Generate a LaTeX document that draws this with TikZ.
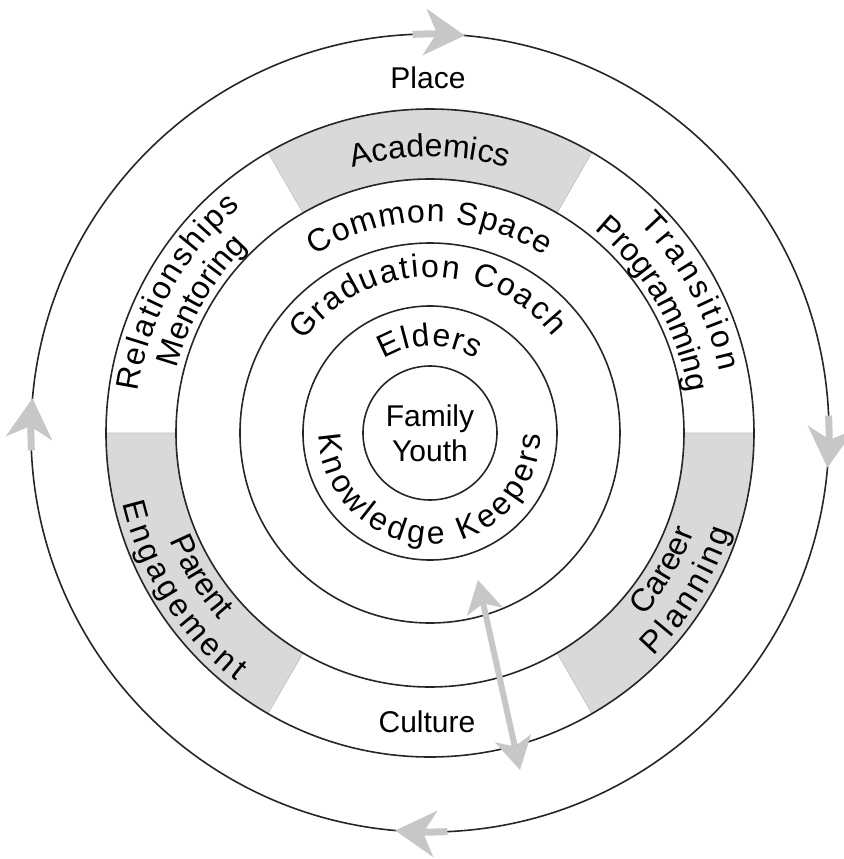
\documentclass[tikz,border=0pt]{standalone}
\usepackage{fontspec}
\setmainfont{Liberation Sans}
\usepackage{tikz}
\usetikzlibrary{arrows.meta,decorations.text}

\colorlet{bandgrey}{black!15}
\colorlet{flowgrey}{black!22}
\newcommand\ringfont{\fontsize{15}{17.5}\selectfont}
\newcommand\arcfont{\fontsize{16}{19}\selectfont}

\begin{document}
\begin{tikzpicture}[x=0.5pt,y=0.5pt,font=\ringfont,
  ring/.style={draw=black!85,line width=0.8pt},
  band/.style={fill=bandgrey,draw=black!25,line width=0.3pt},
  flow/.style={draw=flowgrey,line width=3.5pt,-{Stealth[length=20pt,width=23pt,inset=6pt]}},
  link/.style={draw=flowgrey,line width=3pt,{Stealth[length=16pt,width=18pt,inset=4pt]}-{Stealth[length=16pt,width=18pt,inset=4pt]}},
  arctext/.style={decorate,decoration={text along path,text align=center,text={#1}}},
  fittext/.style={decorate,decoration={text along path,text align=fit to path,text={#1}}}]
\useasboundingbox (-430,-426) rectangle (414,433);
\foreach \a in {60,180,300}
  \path[band] (\a:254) -- (\a:324) arc[start angle=\a,end angle=\a+60,radius=324]
    -- (\a+60:254) arc[start angle=\a+60,end angle=\a,radius=254] -- cycle;
\foreach \r in {67,127,190,254,324,399}
  \draw[ring] (0,0) circle[radius=\r];
\foreach \a in {90,0,-90,180}
  \draw[flow] (\a+2.5:399) arc[start angle=\a+2.5,end angle=\a-5,radius=399];

\node (place) at (-2,355) {Place};
\node (culture) at (-3,-289) {Culture};
\node[align=center] (core) at (0,0) {Family\\Youth};

\arcfont
\path[arctext=Academics] (112:276) arc[start angle=112,end angle=68,radius=276];
\path[fittext={Common Space}] (123:211) arc[start angle=123,end angle=57,radius=211];
\path[fittext={Graduation Coach}] (144:156) arc[start angle=144,end angle=38,radius=156];
\path[fittext=Elders] (122:87) arc[start angle=122,end angle=58,radius=87];
\path[fittext={Knowledge Keepers}] (181:111) arc[start angle=181,end angle=359,radius=111];
\path[fittext=Relationships] (172:295) arc[start angle=172,end angle=130,radius=295];
\path[arctext=Mentoring] (172:261) arc[start angle=172,end angle=128,radius=261];
\path[fittext=Transition] (45:296) arc[start angle=45,end angle=12,radius=296];
\path[arctext=Programming] (60:261) arc[start angle=60,end angle=0,radius=261];
\path[arctext=Parent] (190:282) arc[start angle=190,end angle=234,radius=282];
\path[fittext=Engagement] (193:315) arc[start angle=193,end angle=232,radius=315];
\path[arctext=Career] (308:282) arc[start angle=308,end angle=351,radius=282];
\path[fittext=Planning] (315:316) arc[start angle=315,end angle=342,radius=316];

\coordinate (linktop) at (48,-147);
\coordinate (linkbot) at (90,-337);
\draw[link] (linktop) -- (linkbot);
\end{tikzpicture}
\end{document}
